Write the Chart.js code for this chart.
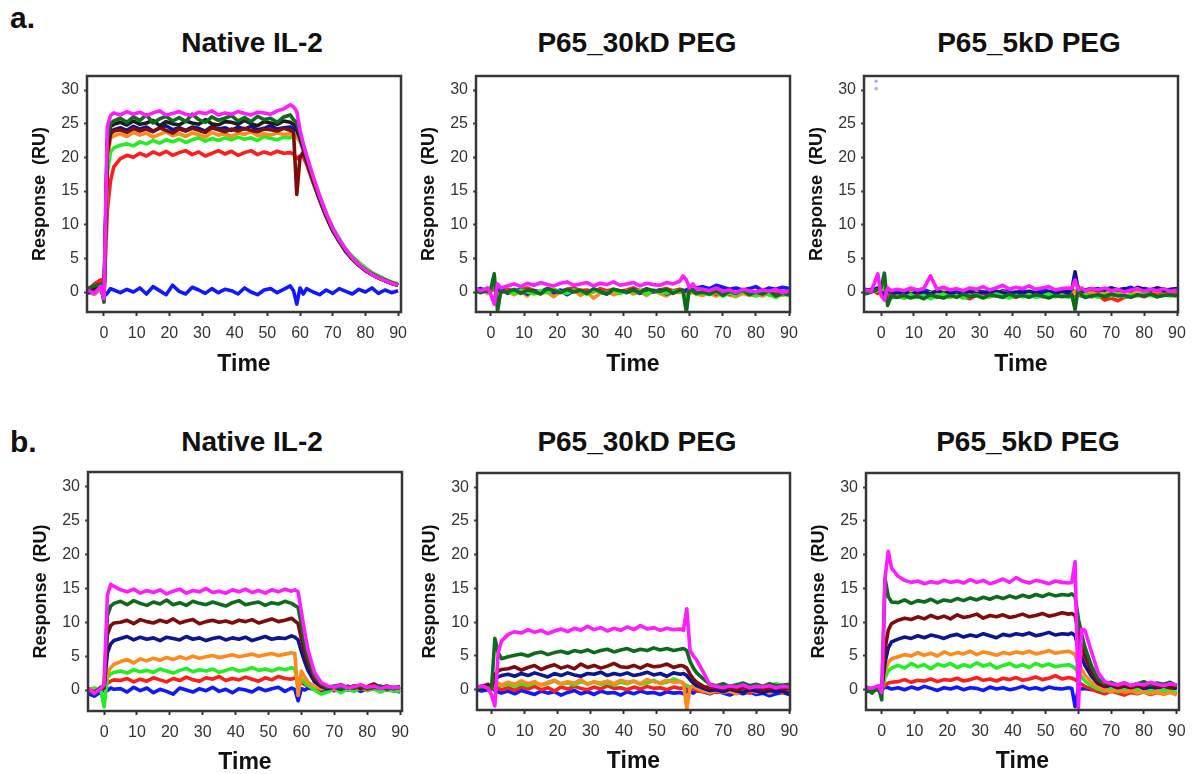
<!DOCTYPE html>
<html>
<head>
<meta charset="utf-8">
<script src="https://cdn.jsdelivr.net/npm/chart.js@4.4.1/dist/chart.umd.min.js"></script>
<style>
    body { margin: 0; background: #fff; width: 1193px; height: 774px; position: relative; overflow: hidden;
           font-family: 'Liberation Sans', Arial, sans-serif; }
    .title { position: absolute; width: 320px; text-align: center; font-weight: bold; font-size: 28px; line-height: 28px; color: #111; }
    .tag { position: absolute; font-weight: bold; font-size: 30px; line-height: 30px; color: #111; }
</style>
</head>
<body>
<div class="tag" style="left:10px;top:3px">a.</div>
<div class="tag" style="left:10px;top:427px">b.</div>
<div class="title" style="left:92px;top:29px">Native IL-2</div>
<div class="title" style="left:477px;top:29px">P65_30kD PEG</div>
<div class="title" style="left:869px;top:29px">P65_5kD PEG</div>
<div class="title" style="left:92px;top:428px">Native IL-2</div>
<div class="title" style="left:477px;top:428px">P65_30kD PEG</div>
<div class="title" style="left:868px;top:428px">P65_5kD PEG</div>

<script>
// Time axis (shared by all sensorgrams)
const time = [
    -5, -3, -1, 0, 1, 2, 3,
    5, 7, 9, 11, 13, 15, 17, 19, 21, 23, 25, 27, 29, 31, 33, 35, 37, 39, 41, 43, 45, 47, 49, 51, 53, 55, 57,
    58, 59, 60, 61, 62,
    64, 66, 68, 70, 72, 74, 76, 78, 80, 82, 84, 86, 88, 90
];
const xTicks = [0, 10, 20, 30, 40, 50, 60, 70, 80, 90];
const yTicks = [0, 5, 10, 15, 20, 25, 30];

// Colors per concentration
const C = {
    magenta: '#ff1cff', darkgreen: '#0f6b1c', black: '#1c1c1c', navy: '#0c1690',
    darkred: '#7e0c0c', orange: '#ff8a1c', green: '#22ee22', red: '#ff1c1c', blue: '#1018ff'
};

// ---- a. Native IL-2 ----
const a1Magenta = [
    0.3, -0.2, 0.8, -1.0, 24.5, 26.2, 26.6,
    26.3, 26.8, 26.4, 26.7, 26.2, 26.6, 26.9, 26.3, 26.5,
    26.8, 26.4, 26.2, 26.7, 26.5, 26.9, 26.3, 26.6, 26.4,
    26.8, 26.5, 26.3, 26.7, 26.6, 26.4, 26.9, 27.2, 27.8,
    27.5, 26.8, 24.0, 22.0, 20.3,
    17.2, 14.3, 11.7, 9.5, 7.8, 6.3, 5.1, 4.1, 3.3, 2.6, 2.1, 1.7, 1.3, 1.0
];
const a1DarkGreen = [
    0.5, 0.9, 1.2, -1.5, 22.5, 25.0, 25.4,
    25.8, 25.2, 26.0, 25.5, 26.3, 25.1, 25.7, 26.1, 25.4,
    25.9, 25.3, 26.4, 25.6, 25.2, 26.0, 25.5, 25.8, 26.2,
    25.4, 25.9, 25.3, 26.1, 25.6, 25.8, 25.2, 26.0, 26.3,
    25.6, 25.2, 23.5, 21.8, 20.0,
    16.9, 14.0, 11.5, 9.3, 7.6, 6.2, 5.0, 4.0, 3.3, 2.7, 2.2, 1.8, 1.4, 1.1
];
const a1Black = [
    0.2, 0.6, 0.9, -1.2, 22.0, 24.6, 24.9,
    25.2, 24.8, 25.4, 24.9, 25.1, 25.5, 24.7, 25.3, 25.0,
    24.8, 25.4, 25.1, 24.9, 25.6, 25.0, 24.8, 25.3, 25.2,
    24.9, 25.5, 25.0, 24.7, 25.3, 25.1, 24.9, 25.4, 25.2,
    24.9, 24.6, 23.0, 21.5, 19.8,
    16.8, 14.0, 11.4, 9.3, 7.6, 6.1, 5.0, 4.0, 3.2, 2.6, 2.1, 1.7, 1.3, 1.0
];
const a1Navy = [
    -0.2, 0.4, 0.7, -0.8, 21.0, 23.8, 24.1,
    24.4, 24.0, 24.6, 24.2, 24.5, 23.9, 24.3, 24.7, 24.1,
    24.4, 24.0, 24.5, 24.3, 23.9, 24.6, 24.2, 24.4, 24.0,
    24.5, 24.2, 24.6, 24.1, 24.3, 24.7, 24.2, 24.4, 24.5,
    24.3, 24.0, 22.8, 21.2, 19.6,
    16.6, 13.8, 11.3, 9.2, 7.5, 6.0, 4.9, 4.0, 3.2, 2.6, 2.1, 1.7, 1.3, 1.0
];
const a1DarkRed = [
    0.4, 0.1, 1.0, -0.5, 20.5, 23.5, 23.9,
    24.1, 23.7, 24.3, 23.9, 24.2, 23.8, 24.4, 24.0, 23.6,
    24.2, 23.9, 24.3, 24.0, 23.7, 24.4, 24.1, 23.8, 24.2,
    23.9, 24.3, 24.0, 23.8, 24.2, 24.1, 23.9, 24.3, 24.0,
    23.8, 14.5, 20.0, 20.8, 19.4,
    16.5, 13.7, 11.2, 9.1, 7.5, 6.1, 4.9, 4.0, 3.2, 2.6, 2.1, 1.7, 1.3, 1.0
];
const a1Orange = [
    0.1, -0.3, 0.5, -0.9, 19.5, 22.8, 23.2,
    23.5, 23.1, 23.7, 23.3, 23.6, 23.0, 23.4, 23.8, 23.2,
    23.5, 23.1, 23.6, 23.4, 23.0, 23.7, 23.3, 23.5, 23.1,
    23.6, 23.4, 23.8, 23.2, 23.5, 23.3, 23.6, 23.4, 23.5,
    23.3, 23.0, 22.3, 21.0, 19.5,
    16.5, 13.8, 11.3, 9.2, 7.6, 6.1, 5.0, 4.1, 3.3, 2.7, 2.2, 1.8, 1.4, 1.1
];
const a1Green = [
    0.6, 0.2, 0.4, -1.0, 17.5, 20.8, 21.4,
    21.8, 22.0, 21.7, 22.3, 22.0, 22.5, 22.1, 22.6, 22.3,
    22.7, 22.2, 22.6, 22.9, 22.4, 22.8, 22.5, 22.9, 22.6,
    23.0, 22.7, 22.9, 22.5, 23.1, 22.8, 22.6, 23.0, 22.9,
    23.2, 23.4, 22.6, 21.3, 19.9,
    17.0, 14.2, 11.7, 9.6, 7.9, 6.4, 5.3, 4.4, 3.6, 2.9, 2.4, 1.9, 1.5, 1.2
];
const a1Red = [
    0.2, 1.2, 1.8, -0.6, 12.0, 16.5, 18.6,
    19.8, 20.3, 20.0, 20.6, 20.2, 20.8, 20.4, 20.9, 20.3,
    20.7, 21.0, 20.4, 20.8, 20.2, 20.6, 21.0, 20.5, 20.9,
    20.3, 20.7, 21.0, 20.4, 20.8, 20.5, 20.9, 20.6, 20.7,
    20.5, 19.8, 20.2, 20.0, 19.0,
    16.2, 13.6, 11.2, 9.1, 7.5, 6.0, 4.9, 4.0, 3.2, 2.6, 2.1, 1.7, 1.3, 1.0
];
const a1Blue = [
    0.1, -0.3, 0.4, -0.6, -0.2, 0.5, 0.3,
    -0.1, 0.4, 0.0, 0.6, -0.3, 0.8, 0.2, -0.4, 1.0,
    0.1, -0.3, 0.7, 0.3, -0.2, 0.5, -0.1, 0.4, 0.2,
    -0.3, 0.6, 0.0, -0.4, 0.3, 0.5, -0.1, 0.4, 0.9,
    0.2, -1.8, 0.6, -0.3, 0.5,
    0.0, -0.4, 0.3, -0.2, 0.5, 0.1, -0.3, 0.4, 0.0, 0.6, -0.2, 0.3, -0.1, 0.2
];

// ---- a. P65_30kD PEG ----
const a2Magenta = [
    0.5, 0.2, 0.6, -0.4, -1.8, 1.2, 0.6,
    0.9, 1.2, 0.8, 1.3, 1.0, 1.4, 1.1, 0.9, 1.3,
    1.5, 1.0, 1.2, 1.4, 0.9, 1.3, 1.1, 1.5, 1.0,
    1.2, 1.4, 0.9, 1.3, 1.1, 1.0, 1.4, 1.2, 1.6,
    2.4, 1.8, 0.6, 1.2, 0.5,
    0.4, 0.2, 0.6, 0.1, 0.3, -0.1, 0.4, 0.2, 0.0, 0.3, 0.1, 0.4, -0.1, 0.2
];
const a2DarkGreen = [
    0.2, -0.1, 0.3, 0.5, 2.7, -2.8, 0.1,
    0.0, 0.4, -0.2, 0.3, 0.1, -0.3, 0.5, 0.2, -0.1,
    0.4, 0.0, 0.3, -0.2, 0.5, 0.1, -0.3, 0.4, 0.2,
    0.0, 0.3, -0.1, 0.5, 0.2, 0.1, 0.4, -0.2, 0.3,
    0.2, -3.0, 0.8, 0.1, -0.2,
    0.0, -0.3, 0.2, -0.5, 0.1, -0.2, 0.3, -0.4, 0.0, -0.3, 0.2, -0.6, -0.2, -0.4
];
const a2Blue = [
    0.3, 0.5, 0.1, 0.4, 0.9, 0.2, 0.5,
    -0.2, 0.1, 0.4, -0.3, 0.2, 0.0, 0.5, -0.1, 0.3,
    -0.4, 0.2, 0.1, -0.2, 0.4, 0.0, -0.3, 0.3, 0.1,
    -0.1, 0.4, -0.2, 0.2, 0.0, 0.3, -0.3, 0.1, 0.2,
    0.0, 0.3, 0.5, 0.2, 0.6,
    0.8, 0.5, 1.0, 0.7, 0.4, 0.6, 0.3, 0.5, 0.8, 0.2, 0.6, 0.4, 0.7, 0.5
];
const a2Orange = [
    0.1, 0.3, -0.2, 0.2, 0.4, 0.0, -0.1,
    0.2, -0.4, 0.1, -0.6, 0.3, -0.2, 0.0, -0.7, 0.1,
    -0.3, 0.2, -0.5, 0.0, -0.9, -0.2, 0.1, -0.4, -0.1,
    0.2, -0.3, 0.0, -0.5, 0.1, -0.2, -0.6, 0.0, -0.1,
    0.1, -0.4, -0.2, 0.0, -0.3,
    -0.5, -0.2, -0.6, -0.1, -0.4, -0.7, -0.2, -0.5, -0.3, -0.6, -0.1, -0.4, -0.5, -0.2
];
const a2Red = [
    0.0, 0.2, 0.4, 0.1, 0.6, 0.3, 0.2,
    0.4, 0.1, 0.3, 0.6, 0.2, 0.0, 0.5, 0.3, 0.1,
    0.4, 0.6, 0.2, 0.3, 0.0, 0.5, 0.2, 0.4, 0.1,
    0.3, 0.6, 0.2, 0.4, 0.1, 0.3, 0.5, 0.2, 0.4,
    0.3, 0.1, 0.2, 0.4, 0.0,
    -0.2, 0.1, -0.3, 0.0, -0.4, -0.1, 0.2, -0.3, -0.1, 0.0, -0.4, -0.2, 0.1, -0.3
];
const a2Green = [
    0.2, 0.0, 0.3, 0.4, 1.5, -1.5, 0.0,
    0.1, -0.2, 0.3, 0.0, -0.3, 0.2, -0.1, 0.4, 0.0,
    -0.2, 0.3, 0.1, -0.3, 0.2, 0.0, -0.1, 0.3, -0.2,
    0.1, 0.0, 0.2, -0.3, 0.3, 0.0, -0.2, 0.1, 0.2,
    0.0, -1.5, 0.5, 0.0, -0.3,
    -0.1, -0.4, 0.0, -0.6, -0.2, -0.5, 0.1, -0.3, -0.6, -0.2, -0.4, -0.8, -0.3, -0.5
];

// ---- a. P65_5kD PEG ----
const a3Magenta = [
    0.3, 0.1, 2.7, -0.5, -1.2, 0.6, 0.2,
    0.4, 0.2, 0.6, 0.3, 0.5, 2.4, 0.4, 0.7, 0.3,
    0.5, 0.2, 0.6, 0.4, 0.8, 0.3, 0.6, 1.0, 0.4,
    0.7, 0.5, 0.9, 0.4, 0.6, 0.8, 0.3, 0.5, 0.6,
    0.5, 1.8, 0.3, 0.6, 0.2,
    0.5, 0.3, 0.6, 0.2, 0.4, 0.0, 0.3, 0.5, 0.1, 0.4, 0.2, 0.5, 0.1, 0.3
];
const a3DarkGreen = [
    -0.3, 0.0, 0.4, 0.6, 2.8, -2.0, -0.6,
    -0.8, -0.5, -0.9, -0.6, -1.0, -0.4, -0.7, -0.9, -0.5,
    -0.8, -0.3, -0.7, -0.5, -0.9, -0.4, -0.6, -0.8, -0.3,
    -0.7, -0.5, -0.8, -0.4, -0.6, -0.9, -0.5, -0.7, -0.6,
    -0.4, -2.6, 0.8, -0.5, -0.8,
    -0.6, -0.4, -0.7, -0.3, -0.6, -0.5, -0.8, -0.4, -0.6, -0.3, -0.7, -0.5, -0.4, -0.6
];
const a3Green = [
    -0.2, 0.1, 0.2, 0.3, 1.6, -1.6, -0.9,
    -0.6, -0.9, -0.4, -0.8, -0.5, -1.0, -0.6, -0.3, -0.8,
    -0.5, -0.9, -0.6, -0.4, -0.8, -0.7, -0.3, -0.6, -0.9,
    -0.5, -0.7, -0.4, -0.8, -0.6, -0.3, -0.7, -0.5, -0.8,
    -0.6, -1.9, 0.4, -0.6, -0.4,
    -0.5, -0.8, -0.4, -0.6, -0.3, -0.7, -0.5, -0.6, -0.2, -0.5, -0.7, -0.4, -0.6, -0.5
];
const a3Red = [
    0.1, 0.4, -0.2, 0.2, -0.6, -0.3, -0.7,
    -0.4, -0.9, -0.5, -0.7, -0.2, -0.6, -0.8, -0.4, -0.6,
    -0.3, -0.7, -1.0, -0.5, -0.4, -0.7, -0.3, -0.6, -0.5,
    -0.8, -0.4, -0.6, -0.3, -0.7, -0.5, -0.4, -0.6, -0.3,
    -0.5, -0.8, -0.4, -0.6, -0.3,
    -0.7, -0.5, -1.2, -0.9, -1.3, -0.8, -0.6, -0.4, -0.7, -0.3, -0.5, -0.2, -0.4, -0.3
];
const a3Blue = [
    0.4, 0.2, 0.6, 0.3, 0.5, -0.2, 0.1,
    0.0, -0.3, 0.2, -0.1, 0.3, 0.0, -0.2, 0.1, -0.3,
    0.2, 0.0, -0.2, 0.3, -0.1, 0.1, -0.3, 0.2, 0.0,
    -0.1, 0.2, 0.0, -0.2, 0.3, 0.1, -0.1, 0.2, 0.0,
    0.3, 0.1, 0.2, 0.4, 0.1,
    0.3, 0.5, 0.2, 0.6, 0.3, 0.4, 0.7, 0.2, 0.5, 0.3, 0.6, 0.4, 0.2, 0.5
];
const a3Navy = [
    0.2, 0.3, 0.5, 0.0, -0.4, 0.2, 0.0,
    -0.2, 0.1, -0.4, 0.0, -0.1, -0.3, 0.2, -0.2, 0.0,
    -0.4, -0.1, 0.1, -0.3, 0.0, -0.2, 0.1, -0.1, -0.3,
    0.0, -0.2, 0.1, -0.1, -0.3, 0.0, -0.2, 0.1, -0.1,
    0.4, 3.0, 0.2, 0.0, 0.3,
    0.5, 0.2, 0.4, 0.6, 0.3, 0.5, 0.2, 0.7, 0.4, 0.3, 0.6, 0.2, 0.4, 0.5
];
const a3Orange = [
    0.0, 0.2, 0.1, -0.3, 0.3, -0.1, -0.4,
    -0.2, -0.5, 0.0, -0.3, -0.6, -0.1, -0.4, 0.1, -0.2,
    -0.5, -0.1, -0.3, 0.0, -0.4, -0.2, -0.6, 0.0, -0.3,
    -0.1, -0.4, 0.0, -0.2, -0.5, -0.1, -0.3, 0.0, -0.2,
    -0.3, 0.2, -0.1, -0.4, 0.0,
    -0.2, 0.1, -0.3, 0.0, -0.2, 0.2, -0.1, 0.3, 0.0, -0.2, 0.1, -0.1, 0.2, -0.3
];
// two stray points at the top-left of the a. P65_5kD PEG panel
const a3StrayTime = [-1.5, -1.5];
const a3StrayValue = [30.2, 31.3];

// ---- b. Native IL-2 ----
const b1Magenta = [
    0.3, -0.5, 0.2, 0.8, 14.0, 15.6, 15.3,
    14.8, 14.5, 14.9, 14.3, 14.7, 14.4, 14.8, 14.2, 14.6,
    14.9, 14.3, 14.7, 14.5, 15.0, 14.4, 14.6, 14.3, 14.8,
    14.5, 14.9, 14.4, 14.7, 14.3, 14.8, 14.5, 14.9, 14.6,
    14.8, 14.5, 11.5, 8.6, 5.9,
    2.6, 1.1, 0.6, 0.4, 0.7, 0.3, 0.5, 0.8, 0.4, 0.6, 0.2, 0.5, 0.3, 0.4
];
const b1DarkGreen = [
    0.1, -0.6, 0.4, 0.5, 11.0, 12.4, 12.8,
    13.1, 12.6, 13.2, 12.8, 12.5, 13.0, 12.7, 13.3, 12.6,
    12.9, 12.5, 13.1, 12.8, 12.6, 13.0, 12.7, 12.4, 12.9,
    13.2, 12.6, 12.8, 13.0, 12.5, 12.9, 12.7, 13.1, 12.8,
    12.5, 12.2, 9.6, 7.0, 4.8,
    2.1, 0.9, 0.4, 0.6, 0.2, 0.5, 0.3, 0.7, 0.2, 0.4, 0.6, 0.1, 0.4, 0.3
];
const b1DarkRed = [
    0.2, -0.4, 0.3, 0.4, 8.2, 9.5, 9.9,
    10.0, 10.3, 9.8, 10.4, 10.1, 9.9, 10.3, 10.0, 10.5,
    9.9, 10.2, 10.4, 9.8, 10.1, 10.3, 10.0, 10.2, 9.9,
    10.3, 10.1, 10.4, 9.9, 10.2, 10.5, 10.1, 10.3, 10.6,
    10.2, 9.8, 7.6, 5.6, 3.9,
    1.7, 0.7, 0.3, 0.5, 0.8, 0.3, 0.6, 0.2, 0.5, 0.9, 0.4, 0.6, 0.3, 0.5
];
const b1Navy = [
    0.0, -0.3, 0.2, 0.3, 5.5, 6.8, 7.3,
    7.6, 7.9, 7.4, 7.8, 7.5, 7.7, 7.3, 7.8, 7.6,
    7.4, 7.9, 7.5, 7.7, 7.3, 7.6, 7.8, 7.4, 7.7,
    7.5, 7.8, 7.3, 7.6, 7.9, 7.5, 7.7, 7.6, 8.0,
    7.8, 7.4, 5.7, 4.2, 2.9,
    1.2, 0.5, 0.2, 0.4, 0.1, 0.5, 0.3, 0.6, 0.2, 0.4, 0.3, 0.5, 0.2, 0.4
];
const b1Orange = [
    0.3, -0.2, 0.4, 0.2, 2.5, 3.3, 3.8,
    4.2, 4.5, 4.0, 4.6, 4.3, 4.7, 4.4, 4.8, 4.5,
    4.9, 4.6, 5.0, 4.7, 4.9, 5.1, 4.8, 5.0, 5.2,
    4.9, 5.1, 5.3, 5.0, 5.2, 5.4, 5.1, 5.3, 5.5,
    5.4, -0.8, 2.8, 1.9, 1.2,
    0.5, 0.2, 0.4, 0.1, 0.3, 0.6, 0.2, 0.4, 0.0, 0.3, 0.5, 0.2, 0.4, 0.1
];
const b1Green = [
    0.1, 0.3, 0.0, -2.5, 1.8, 2.4, 2.6,
    2.8, 2.5, 3.0, 2.7, 2.9, 2.6, 3.1, 2.8, 2.5,
    2.9, 3.2, 2.7, 3.0, 2.8, 3.1, 2.6, 2.9, 3.2,
    2.8, 3.0, 3.3, 2.9, 3.1, 2.8, 3.2, 3.0, 3.3,
    3.1, 0.5, 1.6, 1.1, 0.7,
    0.0, -0.6, -0.3, 0.2, -0.4, 0.1, -0.2, 0.3, -0.1, 0.2, -0.3, 0.1, -0.2, -0.1
];
const b1Red = [
    -0.2, 0.2, 0.1, 0.3, 1.0, 1.3, 1.5,
    1.4, 1.7, 1.2, 1.6, 1.3, 1.8, 1.5, 1.2, 1.7,
    1.4, 1.9, 1.5, 1.3, 1.8, 1.6, 2.0, 1.4, 1.7,
    1.5, 1.9, 1.6, 1.3, 1.8, 1.5, 2.0, 1.7, 1.6,
    1.8, 1.5, 1.1, 0.8, 0.6,
    0.3, 0.1, 0.4, 0.0, 0.5, 0.2, 0.6, 0.1, 0.4, 0.2, 0.5, 0.0, 0.3, 0.2
];
const b1Blue = [
    -0.5, -0.9, -0.3, 0.0, -0.1, 0.3, 0.1,
    0.2, -0.3, 0.4, -0.1, 0.3, -0.4, 0.1, -0.2, -0.6,
    0.3, 0.0, -0.3, 0.2, -0.1, 0.4, -0.2, 0.1, -0.4,
    0.2, 0.0, -0.3, 0.3, -0.1, 0.2, 0.4, -0.2, 0.3,
    0.1, -1.6, 0.2, 0.0, 0.3,
    0.1, -0.3, 0.2, -0.1, 0.4, 0.0, 0.3, -0.2, 0.1, 0.5, -0.1, 0.2, 0.0, -0.3
];

// ---- b. P65_30kD PEG ----
const b2Magenta = [
    0.3, 0.6, 0.2, -0.8, -2.4, 5.5, 7.2,
    8.2, 8.6, 8.4, 8.9, 8.5, 8.8, 8.3, 8.7, 9.0,
    8.6, 9.1, 8.8, 9.4, 8.9, 9.2, 8.7, 9.1, 8.8,
    9.3, 8.9, 9.5, 9.0, 9.2, 8.8, 9.1, 8.9, 9.0,
    8.8, 12.0, 5.8, 5.0, 4.4,
    2.6, 0.7, 0.5, 0.3, 0.6, 0.4, 0.7, 0.3, 0.5, 0.4, 0.6, 0.3, 0.5, 0.4
];
const b2DarkGreen = [
    0.1, 0.4, 0.3, 0.2, 7.6, 5.5, 4.6,
    4.9, 5.1, 5.3, 5.0, 5.4, 5.6, 5.2, 5.5, 5.7,
    5.4, 5.8, 5.6, 5.9, 5.5, 5.8, 6.0, 5.6, 5.9,
    6.1, 5.7, 6.0, 5.8, 6.2, 5.9, 6.1, 5.8, 6.0,
    6.1, 5.8, 4.2, 3.2, 2.5,
    1.6, 0.8, 0.6, 0.9, 0.5, 0.7, 1.0, 0.6, 0.8, 0.5, 0.9, 0.6, 0.7, 0.8
];
const b2DarkRed = [
    0.2, 0.5, 0.8, 0.4, 2.2, 2.8, 3.0,
    3.1, 3.4, 2.9, 3.3, 3.6, 3.0, 3.4, 3.7, 3.2,
    3.5, 3.1, 3.8, 3.3, 3.6, 3.2, 3.5, 3.9, 3.4,
    3.3, 3.6, 3.2, 3.7, 3.4, 3.5, 3.8, 3.3, 3.6,
    3.5, 3.2, 2.3, 1.6, 1.1,
    0.5, 0.2, 0.4, 0.1, 0.3, 0.0, 0.3, 0.2, 0.4, 0.0, 0.2, 0.3, 0.1, 0.2
];
const b2Navy = [
    0.0, 0.2, 0.1, 0.3, 1.6, 1.9, 2.1,
    2.3, 2.0, 2.4, 2.1, 2.5, 2.2, 1.9, 2.4, 2.1,
    2.5, 2.2, 2.0, 2.4, 2.3, 2.6, 2.1, 2.4, 2.2,
    2.5, 2.1, 2.3, 2.6, 2.2, 2.4, 2.0, 2.5, 2.3,
    2.4, 2.1, 1.5, 1.0, 0.6,
    0.2, -0.1, 0.0, -0.3, 0.1, -0.2, -0.4, 0.0, -0.2, -0.5, -0.1, -0.3, -0.2, -0.6
];
const b2Orange = [
    0.1, 0.3, 0.5, 0.2, 0.8, 1.0, 0.7,
    1.1, 0.8, 1.3, 0.9, 1.2, 0.7, 1.1, 1.4, 0.9,
    1.2, 1.0, 1.5, 0.8, 1.2, 1.0, 1.3, 0.9, 1.4,
    1.1, 1.3, 0.9, 1.5, 1.2, 1.0, 1.4, 1.1, 1.2,
    1.0, -2.8, 0.3, 0.6, 0.2,
    -0.2, -0.5, -0.1, -0.4, -0.2, -0.6, -0.3, 0.0, -0.4, -0.2, -0.5, -0.1, -0.3, -0.4
];
const b2Green = [
    0.2, 0.4, 0.1, 0.3, 0.5, 0.7, 0.6,
    0.8, 0.5, 0.9, 0.6, 1.0, 0.7, 0.9, 1.3, 0.8,
    1.0, 0.7, 1.2, 0.9, 1.1, 0.8, 1.0, 0.7, 1.1,
    0.9, 1.2, 0.8, 1.0, 1.4, 0.9, 1.1, 1.6, 1.2,
    0.9, 0.6, 0.4, 0.5, 0.3,
    0.2, 0.6, 0.3, 0.7, 0.4, 0.8, 0.5, 0.3, 0.7, 0.4, 0.6, 0.9, 0.5, 0.7
];
const b2Red = [
    0.0, 0.2, 0.4, 0.1, 0.3, 0.2, 0.0,
    0.3, -0.1, 0.4, 0.1, 0.5, 0.0, 0.3, -0.2, 0.4,
    0.1, 0.5, 0.2, 0.0, 0.4, 0.1, 0.6, 0.2, 0.3,
    0.0, 0.4, 0.1, 0.5, 0.2, 0.3, 0.0, 0.4, 0.2,
    0.3, 0.1, 0.0, 0.2, -0.1,
    -0.3, 0.0, -0.4, -0.1, -0.3, 0.1, -0.2, -0.5, -0.1, -0.3, 0.0, -0.2, -0.4, -0.1
];
const b2Blue = [
    0.1, -0.2, 0.0, 0.3, -0.1, -0.3, -0.5,
    -0.2, -0.6, -0.1, -0.4, -0.7, -0.2, -0.5, -0.3, -0.8,
    -0.4, -0.1, -0.6, -0.3, -0.7, -0.2, -0.5, -0.4, -0.8,
    -0.3, -0.6, -0.2, -0.5, -0.4, -0.7, -0.3, -0.5, -0.4,
    -0.6, -0.3, -0.2, -0.5, -0.1,
    -0.3, -0.6, -0.2, -0.5, -0.8, -0.4, -0.6, -0.3, -0.7, -0.5, -0.9, -0.6, -0.4, -0.7
];

// ---- b. P65_5kD PEG ----
const b3Magenta = [
    0.4, 0.2, 0.6, -0.4, 16.5, 20.5, 18.0,
    16.8, 16.2, 15.9, 16.1, 15.7, 16.0, 15.8, 16.2, 15.9,
    16.1, 15.8, 16.3, 15.9, 16.2, 15.7, 16.0, 16.4, 15.9,
    16.6, 16.1, 15.8, 16.2, 16.0, 15.7, 16.1, 15.9, 15.8,
    15.9, 19.0, -2.8, 9.0, 8.8,
    5.6, 2.6, 1.2, 0.9, 0.7, 1.0, 0.6, 0.9, 0.7, 1.1, 0.8, 0.6, 0.9, 0.7
];
const b3DarkGreen = [
    0.2, -0.5, 0.4, -1.5, 16.5, 13.8, 13.0,
    12.9, 13.3, 12.8, 13.2, 13.0, 13.4, 12.9, 13.3, 13.1,
    13.5, 13.2, 13.6, 13.3, 13.7, 13.4, 13.8, 13.5, 13.9,
    13.6, 14.0, 13.7, 14.1, 13.8, 14.2, 13.9, 14.1, 14.0,
    14.2, 13.8, 10.5, 8.2, 6.3,
    3.5, 1.6, 0.9, 1.1, 0.7, 1.0, 0.6, 0.9, 1.2, 0.7, 1.0, 0.8, 1.1, 0.6
];
const b3DarkRed = [
    0.3, 0.1, 0.5, 0.2, 6.0, 8.8, 9.8,
    10.3, 10.6, 10.4, 10.8, 10.5, 11.0, 10.6, 10.9, 10.5,
    11.1, 10.7, 10.9, 11.2, 10.6, 11.0, 10.8, 11.1, 10.7,
    10.9, 11.2, 10.8, 11.0, 11.3, 10.9, 11.1, 11.4, 11.2,
    11.3, 11.0, 8.4, 6.5, 5.0,
    2.7, 1.2, 0.6, 0.8, 0.4, 0.7, 0.3, 0.6, 0.5, 0.8, 0.4, 0.6, 0.3, 0.5
];
const b3Navy = [
    0.1, -0.2, 0.3, 0.0, 4.0, 6.2, 7.1,
    7.5, 7.8, 7.6, 8.0, 7.7, 8.1, 7.9, 7.6, 8.0,
    8.2, 7.8, 8.1, 7.9, 8.3, 8.0, 7.7, 8.2, 8.0,
    8.3, 8.1, 8.4, 8.0, 8.2, 8.5, 8.1, 8.3, 8.2,
    8.4, 8.0, 6.2, 4.8, 3.6,
    2.0, 0.9, 0.5, 0.7, 0.3, 0.6, 0.4, 0.7, 0.2, 0.5, 0.3, 0.6, 0.4, 0.2
];
const b3Orange = [
    0.2, 0.0, 0.4, 0.1, 2.8, 4.0, 4.6,
    4.9, 5.2, 5.0, 5.5, 5.1, 5.4, 5.0, 5.6, 5.2,
    5.5, 5.3, 5.7, 5.2, 5.6, 5.4, 5.1, 5.5, 5.3,
    5.6, 5.4, 5.7, 5.3, 5.5, 5.8, 5.4, 5.6, 5.7,
    5.5, 5.2, 3.9, 3.0, 2.2,
    1.1, 0.4, 0.0, -0.3, 0.1, -0.4, -0.1, -0.5, -0.2, -0.6, -0.3, -0.7, -0.4, -0.8
];
const b3Green = [
    0.3, 0.1, 0.5, -0.3, 1.8, 2.8, 3.2,
    3.6, 3.2, 3.9, 3.4, 3.7, 3.1, 3.8, 3.5, 3.9,
    3.3, 3.7, 3.4, 4.0, 3.5, 3.8, 3.2, 3.6, 3.9,
    3.4, 3.7, 3.3, 3.9, 3.5, 3.8, 3.4, 3.6, 3.7,
    3.5, 3.2, 2.5, 1.9, 1.3,
    0.6, 0.1, -0.2, 0.2, -0.3, 0.0, -0.2, 0.1, -0.4, -0.1, -0.3, 0.0, -0.2, -0.4
];
const b3Red = [
    0.0, 0.2, -0.1, 0.3, 0.6, 1.0, 1.1,
    1.2, 1.5, 1.1, 1.4, 1.3, 1.6, 1.2, 1.5, 1.4,
    1.7, 1.3, 1.5, 1.8, 1.4, 1.6, 1.3, 1.7, 1.5,
    1.8, 1.4, 1.6, 1.9, 1.5, 1.7, 2.1, 1.6, 1.8,
    1.7, 1.5, 1.1, 0.8, 0.5,
    0.1, -0.3, -0.6, -0.2, -0.5, -0.8, -0.4, -0.6, -0.3, -0.7, -0.4, -0.6, -0.2, -0.5
];
const b3Blue = [
    -0.3, -0.1, 0.2, 0.0, 0.4, 0.3, 0.1,
    0.3, 0.0, 0.4, 0.1, 0.5, 0.2, -0.1, 0.3, 0.1,
    0.4, 0.0, 0.3, 0.2, -0.1, 0.4, 0.1, 0.3, 0.0,
    0.2, 0.5, 0.1, 0.3, 0.0, 0.4, 0.2, 0.1, 0.3,
    0.2, -2.5, 0.3, 0.1, 0.2,
    0.0, 0.3, 0.1, 0.4, 0.0, 0.2, 0.5, 0.1, 0.3, 0.0, 0.4, 0.2, 0.1, 0.3
];

// Panel layout: plot-area box in page pixels [left, top, right, bottom] and axis ranges.
// Series are listed top-most first (Chart.js paints dataset 0 last).
const panels = [
    { box: [87, 76, 401, 312], x: [-5.2, 90.9], y: [-2.97, 32.08], timePad: 4,
      series: [[a1Magenta, C.magenta], [a1DarkGreen, C.darkgreen], [a1Black, C.black], [a1DarkRed, C.darkred],
               [a1Navy, C.navy], [a1Orange, C.orange], [a1Green, C.green], [a1Red, C.red], [a1Blue, C.blue]] },
    { box: [476, 76, 790, 312], x: [-4.5, 90.3], y: [-2.97, 32.08], timePad: 4,
      series: [[a2Magenta, C.magenta], [a2DarkGreen, C.darkgreen], [a2Green, C.green], [a2Blue, C.blue],
               [a2Red, C.red], [a2Orange, C.orange]] },
    { box: [864, 76, 1178, 312], x: [-5.2, 90.3], y: [-2.97, 32.08], timePad: 4,
      series: [[a3Magenta, C.magenta], [a3DarkGreen, C.darkgreen], [a3Green, C.green], [a3Navy, C.navy],
               [a3Red, C.red], [a3Orange, C.orange], [a3Blue, C.blue]],
      stray: true },
    { box: [88, 472, 402, 711], x: [-4.9, 90.6], y: [-3.1, 32.2], timePad: 5,
      series: [[b1Magenta, C.magenta], [b1DarkGreen, C.darkgreen], [b1DarkRed, C.darkred], [b1Navy, C.navy],
               [b1Orange, C.orange], [b1Green, C.green], [b1Red, C.red], [b1Blue, C.blue]] },
    { box: [477, 473, 790, 710], x: [-4.4, 90.2], y: [-3.0, 32.1], timePad: 5,
      series: [[b2Magenta, C.magenta], [b2DarkGreen, C.darkgreen], [b2DarkRed, C.darkred], [b2Navy, C.navy],
               [b2Orange, C.orange], [b2Green, C.green], [b2Red, C.red], [b2Blue, C.blue]] },
    { box: [866, 473, 1179, 710], x: [-4.8, 90.7], y: [-3.0, 32.1], timePad: 5,
      series: [[b3Magenta, C.magenta], [b3DarkGreen, C.darkgreen], [b3DarkRed, C.darkred], [b3Navy, C.navy],
               [b3Orange, C.orange], [b3Green, C.green], [b3Red, C.red], [b3Blue, C.blue]] }
];

Chart.defaults.font.family = "'Liberation Sans', Arial, sans-serif";
Chart.defaults.color = '#333';

// Dark frame around each plot area
const framePlugin = {
    id: 'frame',
    afterDatasetsDraw(chart) {
        const { ctx, chartArea: a } = chart;
        ctx.save();
        ctx.strokeStyle = '#363636';
        ctx.lineWidth = 2.5;
        ctx.strokeRect(a.left, a.top, a.right - a.left, a.bottom - a.top);
        ctx.restore();
    }
};

const AXIS_W = 60, AXIS_H = 70, PAD_TOP = 10, PAD_RIGHT = 14;

panels.forEach(p => {
    const [l, t, r, b] = p.box;
    const W = r - l + AXIS_W + PAD_RIGHT;
    const H = b - t + PAD_TOP + AXIS_H;
    const canvas = document.createElement('canvas');
    canvas.width = W;
    canvas.height = H;
    canvas.style.cssText = `position:absolute;left:${l - AXIS_W}px;top:${t - PAD_TOP}px;width:${W}px;height:${H}px`;
    document.body.appendChild(canvas);

    const datasets = p.series.map(([values, color]) => ({
        data: values.map((v, i) => ({ x: time[i], y: v })),
        borderColor: color,
        backgroundColor: color,
        borderWidth: 3.6,
        borderJoinStyle: 'round',
        pointRadius: 0,
        tension: 0
    }));
    if (p.stray) {
        datasets.push({
            data: a3StrayTime.map((x, i) => ({ x, y: a3StrayValue[i] })),
            showLine: false,
            pointRadius: 1.8,
            pointBorderWidth: 0,
            backgroundColor: '#aab0ff',
            borderColor: '#aab0ff'
        });
    }

    new Chart(canvas, {
        type: 'line',
        data: { datasets },
        options: {
            responsive: false,
            animation: false,
            devicePixelRatio: 1,
            events: [],
            layout: { padding: { left: 0, top: PAD_TOP, right: PAD_RIGHT, bottom: 0 } },
            plugins: { legend: { display: false }, tooltip: { enabled: false } },
            scales: {
                x: {
                    type: 'linear',
                    min: p.x[0],
                    max: p.x[1],
                    afterBuildTicks: s => { s.ticks = xTicks.map(v => ({ value: v })); },
                    afterFit: s => { s.height = AXIS_H; s.paddingLeft = 0; s.paddingRight = 0; },
                    grid: { drawOnChartArea: false, drawTicks: true, tickLength: 4, tickWidth: 2, tickColor: '#333' },
                    border: { display: false },
                    ticks: { font: { size: 16 }, color: '#333', padding: 8, maxRotation: 0 },
                    title: { display: true, text: 'Time', color: '#111',
                             font: { size: 23, weight: 'bold' }, padding: { top: 0, bottom: p.timePad } }
                },
                y: {
                    min: p.y[0],
                    max: p.y[1],
                    afterBuildTicks: s => { s.ticks = yTicks.map(v => ({ value: v })); },
                    afterFit: s => { s.width = AXIS_W; s.paddingTop = 0; s.paddingBottom = 0; },
                    grid: { drawOnChartArea: false, drawTicks: true, tickLength: 3, tickWidth: 2, tickColor: '#444' },
                    border: { display: false },
                    ticks: { font: { size: 16 }, color: '#333', padding: 5 },
                    title: { display: true, text: 'Response  (RU)', color: '#111',
                             font: { size: 18, weight: 'bold' }, padding: { top: 2, bottom: 0 } }
                }
            }
        },
        plugins: [framePlugin]
    });
});
</script>
</body>
</html>
